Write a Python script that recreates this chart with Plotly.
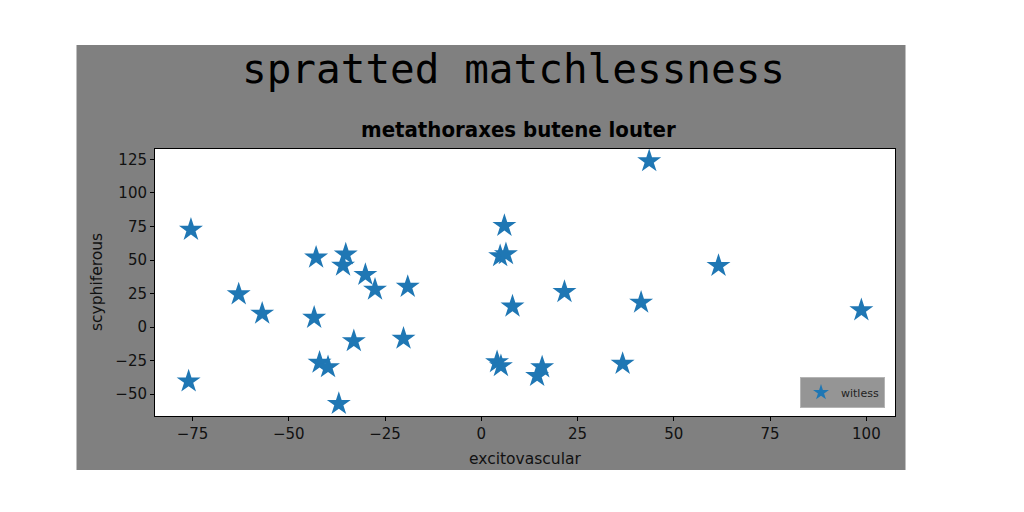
import plotly.graph_objects as go

# ---- data ----
x_vals = [-75.4, -63.0, -56.9, -76.0, -42.9, -35.2, -35.9, -43.4, -33.1, -42.0,
          -39.8, -37.0, -30.1, -27.6, -19.1, -20.2, 6.0, 4.9, 6.4, 8.1,
          4.1, 5.1, 15.8, 14.5, 21.6, 36.7, 41.5, 43.6, 61.6, 98.7]
y_vals = [72.6, 24.5, 10.1, -40.4, 51.9, 54.2, 45.9, 7.0, -10.4, -26.5,
          -29.8, -57.2, 39.0, 28.0, 30.1, -8.6, 75.5, 52.9, 54.4, 15.4,
          -26.1, -29.0, -29.9, -36.3, 26.2, -27.3, 18.3, 123.7, 45.7, 12.6]
series_name = "witless"
x_ticks = [-75, -50, -25, 0, 25, 50, 75, 100]
y_ticks = [-50, -25, 0, 25, 50, 75, 100, 125]
title_text = "spratted matchlessness"
subtitle_text = "metathoraxes butene louter"
x_label = "excitovascular"
y_label = "scyphiferous"

# ---- layout geometry (pixels) ----
W, H = 1024, 512
L, R, T, B = 147, 137, 141, 104
PW, PH = W - L - R, H - T - B


def xp(px):
    return (px - L) / PW


def yp(py):
    return (H - B - py) / PH


def pad_range(v):
    lo, hi = min(v), max(v)
    s = hi - lo
    return [lo - 0.05 * s, hi + 0.05 * s]


fig = go.Figure()
fig.add_trace(go.Scatter(
    x=x_vals, y=y_vals, mode="markers", name=series_name,
    marker=dict(symbol="star", size=18, color="#1f77b4", line=dict(width=0)),
))

tickfont = dict(family="DejaVu Sans", size=15, color="#111111")
axis_common = dict(
    showline=True, linecolor="black", linewidth=1, mirror=True,
    ticks="outside", ticklen=4, tickwidth=1, tickcolor="black",
    showgrid=False, zeroline=False, tickfont=tickfont,
)

fig.update_layout(
    width=W, height=H,
    margin=dict(l=L, r=R, t=T, b=B, pad=0),
    paper_bgcolor="white",
    plot_bgcolor="white",
    xaxis=dict(range=pad_range(x_vals), tickvals=x_ticks, **axis_common),
    yaxis=dict(range=pad_range(y_vals), tickvals=y_ticks, **axis_common),
    showlegend=True,
    legend=dict(
        x=xp(877), y=yp(400), xanchor="right", yanchor="bottom",
        bgcolor="#959595", bordercolor="#b4b4b4", borderwidth=1,
        font=dict(family="DejaVu Sans", size=11, color="#222222"),
        itemsizing="constant",
    ),
    shapes=[
        dict(type="rect", xref="paper", yref="paper", layer="below",
             x0=xp(68.5), x1=xp(897.5), y0=yp(462), y1=yp(37),
             fillcolor="#808080", line=dict(width=0)),
        dict(type="rect", xref="paper", yref="paper", layer="below",
             x0=0, x1=1, y0=0, y1=1,
             fillcolor="white", line=dict(width=0)),
    ],
    annotations=[
        dict(text=title_text, xref="paper", yref="paper", x=xp(505), y=yp(61),
             xanchor="center", yanchor="middle", showarrow=False,
             font=dict(family="DejaVu Sans Mono", size=41, color="black")),
        dict(text=subtitle_text, xref="paper", yref="paper",
             x=xp(510), y=yp(121), xanchor="center", yanchor="middle",
             showarrow=False,
             font=dict(family="DejaVu Sans Condensed, DejaVu Sans", size=22,
                       weight=900, color="black")),
        dict(text=x_label, xref="paper", yref="paper", x=xp(517), y=yp(451),
             xanchor="center", yanchor="middle", showarrow=False,
             font=dict(family="DejaVu Sans", size=15.5, color="#111111")),
        dict(text=y_label, xref="paper", yref="paper", x=xp(89), y=yp(274),
             xanchor="center", yanchor="middle", showarrow=False, textangle=-90,
             font=dict(family="DejaVu Sans", size=15.5, color="#111111")),
    ],
)

fig.write_html("out.html")
